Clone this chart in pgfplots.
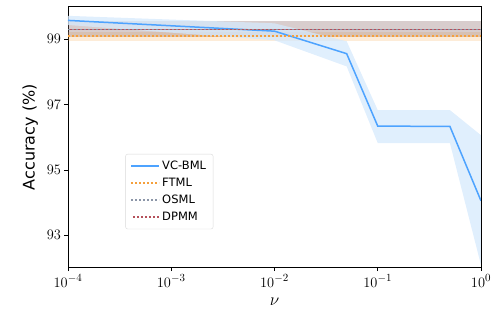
\documentclass[border=0pt]{standalone}
\usepackage{pgfplots}
\pgfplotsset{compat=1.18}
\usepackage{fontspec}
\setmainfont{DejaVu Sans}
\definecolor{cblue}{HTML}{4DA3FF}
\definecolor{cband}{HTML}{D6E9FC}
\definecolor{corange}{HTML}{F5A03C}
\definecolor{cgray}{HTML}{8C96A8}
\definecolor{cred}{HTML}{B5505A}
\definecolor{cbrown}{HTML}{8C564B}
\begin{document}
\begin{tikzpicture}
\begin{axis}[
  scale only axis,
  width=413pt, height=261pt,
  xmode=log, log basis x=10,
  xmin=1e-4, xmax=1,
  ymin=92, ymax=100,
  ytick={93,95,97,99},
  xtick={1e-4,1e-3,1e-2,1e-1,1},
  minor xtick={},
  axis line style={line width=0.8pt},
  tick style={black, line width=0.6pt},
  tick align=outside, major tick length=3.5pt,
  xtick pos=bottom, ytick pos=left,
  ticklabel style={font=\fontsize{15}{15}\selectfont},
  xlabel={$\nu$}, ylabel={Accuracy (\%)},
  label style={font=\fontsize{16}{16}\selectfont},
  xlabel style={yshift=-4pt},
  ylabel style={yshift=2pt},
  legend style={at={(axis cs:3.6e-4,93.18)}, anchor=south west, font=\fontsize{11.5}{11.5}\selectfont,
    draw=black!15, rounded corners=2pt, row sep=3pt, inner xsep=5pt, inner ysep=5pt},
  legend cell align=left,
  legend image code/.code={\draw[#1] (0pt,0pt) -- (28pt,0pt);},
]
% bands for horizontal lines
\addplot[draw=none, fill=corange, fill opacity=0.2, forget plot] coordinates {(1e-4,98.95) (1,98.95) (1,99.22) (1e-4,99.22)} -- cycle;
\addplot[draw=none, fill=cgray, fill opacity=0.15, forget plot] coordinates {(1e-4,99.07) (1,99.07) (1,99.55) (1e-4,99.55)} -- cycle;
\addplot[draw=none, fill=cbrown, fill opacity=0.22, forget plot] coordinates {(1e-4,99.07) (1,99.07) (1,99.55) (1e-4,99.55)} -- cycle;
% VC-BML band
\addplot[draw=none, fill=cband, fill opacity=0.75, forget plot] coordinates {
 (1e-4,99.72) (1e-2,99.49) (0.05,98.94) (0.1,96.83) (0.5,96.83) (1,96.06)
 (1,92.08) (0.5,95.82) (0.1,95.82) (0.05,98.17) (1e-2,98.97) (1e-4,99.44)} -- cycle;
\addplot[cblue, line width=1.5pt] coordinates {
 (1e-4,99.58) (1e-2,99.25) (0.05,98.56) (0.1,96.34) (0.5,96.33) (1,94.05)};
\addlegendentry{VC-BML}
\addplot[corange, line width=1.6pt, dash pattern=on 1.6pt off 2.4pt] coordinates {(1e-4,99.10) (1,99.10)};
\addlegendentry{FTML}
\addplot[cgray, line width=1.6pt, dash pattern=on 1.6pt off 2.4pt] coordinates {(1e-4,99.30) (1,99.30)};
\addlegendentry{OSML}
\addplot[cred, line width=1.6pt, dash pattern=on 1.6pt off 2.4pt, dash phase=2pt] coordinates {(1e-4,99.30) (1,99.30)};
\addlegendentry{DPMM}
\end{axis}
\pgfresetboundingbox
\path[use as bounding box] ([shift={(-68pt,-52pt)}]current axis.south west) rectangle ([shift={(13pt,6.7pt)}]current axis.north east);
\end{tikzpicture}
\end{document}
